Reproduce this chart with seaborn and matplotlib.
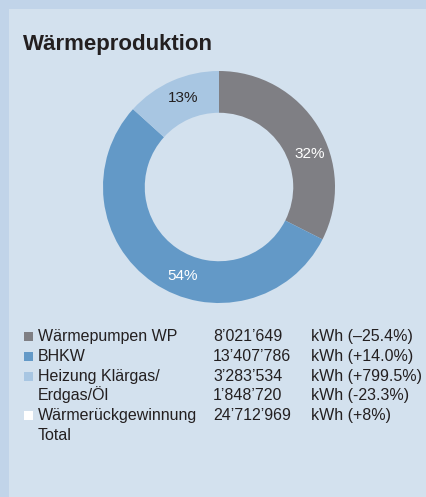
import numpy as np
import matplotlib
matplotlib.use("Agg")
import matplotlib.pyplot as plt
import matplotlib.patches as mpatches
import seaborn as sns

# ---- data ----
title = "Wärmeproduktion"
segments = ["Wärmepumpen WP", "BHKW", "Heizung Klärgas/Erdgas/Öl"]
segment_kwh = [8021649, 13407786, 3283534]
legend_labels = ["Wärmepumpen WP", "BHKW", "Heizung Klärgas/", "Erdgas/Öl",
                 "Wärmerückgewinnung", "Total"]
legend_values = ["8’021’649", "13’407’786", "3’283’534", "1’848’720", "24’712’969", ""]
legend_units = ["kWh (–25.4%)", "kWh (+14.0%)", "kWh (+799.5%)", "kWh (-23.3%)",
                "kWh (+8%)", ""]
legend_swatch = ["#7f7f84", "#6399c7", "#a8c6e2", None, "#ffffff", None]

# ---- style ----
pie_colors = ["#7f7f84", "#6399c7", "#a8c6e2"]
pct_colors = ["white", "white", "#231f20"]
label_angles = [20, -112, 112]   # where the percent labels sit (deg)
panel_bg = "#d3e1ee"
border_bg = "#c1d4e9"
text_col = "#231f20"

sns.set_theme(style="white")
plt.rcParams['font.family'] = ['Liberation Sans', 'DejaVu Sans']

W, H = 427, 497
fig = plt.figure(figsize=(W / 100, H / 100), dpi=100)
fig.patch.set_facecolor(border_bg)

def px(x, y):
    return x / W, 1 - y / H

# inner panel as a background axes
bg = fig.add_axes([9 / W, 0, 1 - 9 / W, 1 - 9 / H], zorder=0)
bg.set_facecolor(panel_bg)
bg.axis("off")
bg.add_patch(mpatches.Rectangle((0, 0), 1, 1, transform=bg.transAxes,
                                facecolor=panel_bg, edgecolor="none"))

fig.text(*px(23, 50), title, fontsize=16, fontweight="bold", color=text_col,
         ha="left", va="baseline", zorder=5)

# donut
cx, cy, r = 219, 187, 116
ax = fig.add_axes([(cx - r) / W, (H - cy - r) / H, 2 * r / W, 2 * r / H], zorder=2)
wedges, _, autotexts = ax.pie(segment_kwh, colors=pie_colors, startangle=90,
                              counterclock=False, radius=1,
                              wedgeprops=dict(width=0.36, edgecolor="none"),
                              autopct="%.0f%%", pctdistance=0.82,
                              textprops=dict(fontsize=11))
for t, c, a in zip(autotexts, pct_colors, label_angles):
    t.set_color(c)
    t.set_position((0.83 * np.cos(np.radians(a)), 0.83 * np.sin(np.radians(a))))
ax.set_xlim(-1, 1)
ax.set_ylim(-1, 1)
ax.set_aspect("auto")
ax.axis("off")

# legend table
y0, dy = 341, 19.8
for i, (lab, val, unit, sw) in enumerate(zip(legend_labels, legend_values,
                                             legend_units, legend_swatch)):
    yb = y0 + i * dy
    if sw is not None:
        bg.add_patch(mpatches.Rectangle(px(24, yb), 9 / W, 9 / H,
                                        transform=fig.transFigure,
                                        facecolor=sw, edgecolor="none"))
    for x, s in ((38, lab), (213, val), (311, unit)):
        fig.text(*px(x, yb), s, fontsize=11.5, color=text_col, ha="left",
                 va="baseline", zorder=5)

fig.savefig("out.png", dpi=100, facecolor=fig.get_facecolor())
